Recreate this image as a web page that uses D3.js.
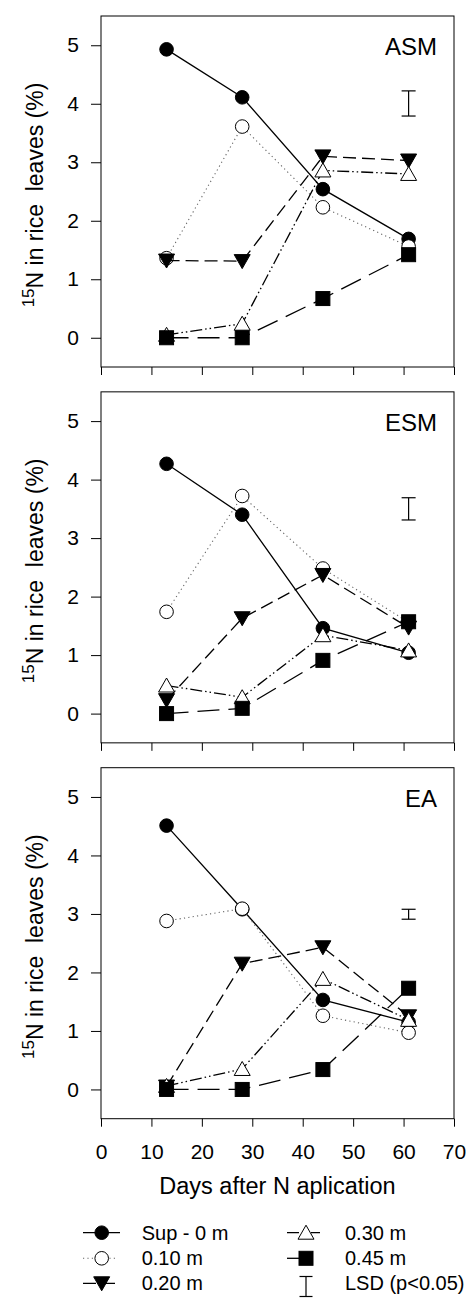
<!DOCTYPE html>
<html><head><meta charset="utf-8">
<script src="https://cdn.jsdelivr.net/npm/d3@7"></script>
<style>
body{margin:0;background:#fff}
svg{display:block}
text{font-family:"Liberation Sans",Arial,Helvetica,sans-serif;fill:#000}
</style>
</head><body>
<svg id="c" width="468" height="1298"></svg>
<script>
// ---- data ----
const days = [13, 28, 44, 61];
const panelNames = ["ASM", "ESM", "EA"];
const seriesNames = ["Sup - 0 m", "0.10 m", "0.20 m", "0.30 m", "0.45 m"];
const asmSup = [4.93, 4.11, 2.54, 1.69];
const asm010 = [1.36, 3.61, 2.23, 1.56];
const asm020 = [1.32, 1.31, 3.10, 3.03];
const asm030 = [0.05, 0.24, 2.86, 2.80];
const asm045 = [0.00, 0.00, 0.67, 1.42];
const esmSup = [4.27, 3.40, 1.46, 1.04];
const esm010 = [1.74, 3.72, 2.48, 1.56];
const esm020 = [0.23, 1.63, 2.37, 1.47];
const esm030 = [0.48, 0.28, 1.34, 1.08];
const esm045 = [0.00, 0.09, 0.91, 1.57];
const eaSup = [4.51, 3.08, 1.53, 1.15];
const ea010 = [2.88, 3.09, 1.26, 0.97];
const ea020 = [0.05, 2.15, 2.43, 1.25];
const ea030 = [0.06, 0.35, 1.89, 1.19];
const ea045 = [0.00, 0.00, 0.34, 1.73];
const lsdLow = [3.79, 3.31, 2.91];
const lsdHigh = [4.22, 3.69, 3.08];
const lsdDay = 61;
const xTicks = [0, 10, 20, 30, 40, 50, 60, 70];
const yTicks = [0, 1, 2, 3, 4, 5];

const panelData = [
  [asmSup, asm010, asm020, asm030, asm045],
  [esmSup, esm010, esm020, esm030, esm045],
  [eaSup, ea010, ea020, ea030, ea045]
];

// ---- styles ----
const styles = [
  {dash: null, color: "#000", width: 1.3, marker: "circle", fill: "#000"},
  {dash: "1.2,3.2", color: "#666", width: 1.1, marker: "circle", fill: "#fff"},
  {dash: "13,6", color: "#000", width: 1.3, marker: "down", fill: "#000"},
  {dash: "12,3,1.5,3,1.5,3", color: "#000", width: 1.3, marker: "up", fill: "#fff"},
  {dash: "22,9", color: "#000", width: 1.3, marker: "square", fill: "#000"}
];

const svg = d3.select("#c");
const left = 101, right = 454;
const x = d3.scaleLinear().domain([0, 70]).range([left, right]);
const panelH = 351, panelStep = 375.85, firstTop = 16;

function drawMarker(g, type, cx, cy, fill) {
  if (type === "circle") {
    g.append("circle").attr("cx", cx).attr("cy", cy).attr("r", 6.8)
      .attr("fill", fill).attr("stroke", "#000").attr("stroke-width", 1);
  } else if (type === "square") {
    g.append("rect").attr("x", cx - 7).attr("y", cy - 7).attr("width", 14).attr("height", 14)
      .attr("fill", fill).attr("stroke", "#000").attr("stroke-width", 1);
  } else if (type === "up") {
    g.append("path").attr("d", `M${cx},${cy-7.5}L${cx+8},${cy+6.5}L${cx-8},${cy+6.5}Z`)
      .attr("fill", fill).attr("stroke", "#000").attr("stroke-width", 1);
  } else if (type === "down") {
    g.append("path").attr("d", `M${cx},${cy+7.5}L${cx+8},${cy-6.5}L${cx-8},${cy-6.5}Z`)
      .attr("fill", fill).attr("stroke", "#000").attr("stroke-width", 1);
  }
}

panelNames.forEach((name, pi) => {
  const top = firstTop + pi * panelStep;
  const bottom = top + panelH;
  const y = d3.scaleLinear().domain([-0.5, 5.5]).range([bottom, top]);
  const g = svg.append("g");

  // frame
  g.append("rect").attr("x", left).attr("y", top).attr("width", right - left).attr("height", panelH)
    .attr("fill", "none").attr("stroke", "#000").attr("stroke-width", 1);

  // y axis
  const ya = g.append("g").attr("transform", `translate(${left},0)`)
    .call(d3.axisLeft(y).tickValues(yTicks).tickSize(10).tickSizeOuter(0).tickPadding(12).tickFormat(d3.format("d")));
  ya.select(".domain").remove();
  ya.selectAll(".tick line").attr("stroke", "#000");
  ya.selectAll("text").attr("font-size", 21).attr("font-family", "Liberation Sans, Arial, sans-serif");

  // x axis
  const xa = g.append("g").attr("transform", `translate(0,${bottom})`)
    .call(d3.axisBottom(x).tickValues(xTicks).tickSize(8).tickSizeOuter(0).tickPadding(17)
      .tickFormat(pi === 2 ? d3.format("d") : () => ""));
  xa.select(".domain").remove();
  xa.selectAll(".tick line").attr("stroke", "#000");
  xa.selectAll("text").attr("font-size", 21).attr("font-family", "Liberation Sans, Arial, sans-serif");

  // y label
  const yl = g.append("text")
    .attr("transform", `translate(43,${top + 179}) rotate(-90)`)
    .attr("text-anchor", "middle")
    .attr("font-size", 23)
    .style("white-space", "pre");
  yl.append("tspan").attr("font-size", 17).attr("dy", -9).text("15");
  yl.append("tspan").attr("dy", 9).text("N in rice  leaves (%)");

  // panel label
  g.append("text").attr("x", 437).attr("y", top + 39).attr("text-anchor", "end")
    .attr("font-size", 24).text(name);

  // LSD bar
  const lx = x(lsdDay);
  const lsd = g.append("g").attr("stroke", "#000").attr("stroke-width", 1.2);
  lsd.append("line").attr("x1", lx).attr("x2", lx).attr("y1", y(lsdLow[pi])).attr("y2", y(lsdHigh[pi]));
  lsd.append("line").attr("x1", lx - 7).attr("x2", lx + 7).attr("y1", y(lsdLow[pi])).attr("y2", y(lsdLow[pi]));
  lsd.append("line").attr("x1", lx - 7).attr("x2", lx + 7).attr("y1", y(lsdHigh[pi])).attr("y2", y(lsdHigh[pi]));

  // series
  const line = d3.line().x((d, i) => x(days[i])).y(d => y(d));
  panelData[pi].forEach((vals, si) => {
    const st = styles[si];
    const sg = g.append("g");
    sg.append("path").attr("d", line(vals)).attr("fill", "none")
      .attr("stroke", st.color).attr("stroke-width", st.width)
      .attr("stroke-dasharray", st.dash);
    vals.forEach((v, i) => drawMarker(sg, st.marker, x(days[i]), y(v), st.fill));
  });
});

// x axis title
svg.append("text").attr("x", x(35)).attr("y", 1194).attr("text-anchor", "middle")
  .attr("font-size", 23.5).text("Days after N aplication");

// legend
const legRows = [1232.7, 1258.3, 1283.3];
const legItems = [
  {si: 0, col: 0, row: 0, x1: 83, x2: 120, mx: 101.7},
  {si: 1, col: 0, row: 1, x1: 83, x2: 118, mx: 101.7},
  {si: 2, col: 0, row: 2, x1: 83, x2: 118, mx: 101.7},
  {si: 3, col: 1, row: 0, x1: 287, x2: 320, mx: 306},
  {si: 4, col: 1, row: 1, x1: 287, x2: 306, mx: 306}
];
const legText = [141.7, 345];
const lg = svg.append("g");
legItems.forEach(it => {
  const st = styles[it.si];
  const cy = legRows[it.row];
  lg.append("line").attr("x1", it.x1).attr("x2", it.x2).attr("y1", cy).attr("y2", cy)
    .attr("stroke", st.color).attr("stroke-width", st.width).attr("stroke-dasharray", st.dash);
  drawMarker(lg, st.marker, it.mx, cy, st.fill);
  lg.append("text").attr("x", legText[it.col]).attr("y", cy + 7).attr("font-size", 20).text(seriesNames[it.si]);
});
// LSD legend
const lsdL = lg.append("g").attr("stroke", "#000").attr("stroke-width", 1.2);
lsdL.append("line").attr("x1", 306).attr("x2", 306).attr("y1", 1276.5).attr("y2", 1296.5);
lsdL.append("line").attr("x1", 299.5).attr("x2", 312.5).attr("y1", 1276.5).attr("y2", 1276.5);
lsdL.append("line").attr("x1", 299.5).attr("x2", 312.5).attr("y1", 1296.5).attr("y2", 1296.5);
lg.append("text").attr("x", 345).attr("y", legRows[2] + 7).attr("font-size", 20).text("LSD (p<0.05)");
</script>
</body></html>
